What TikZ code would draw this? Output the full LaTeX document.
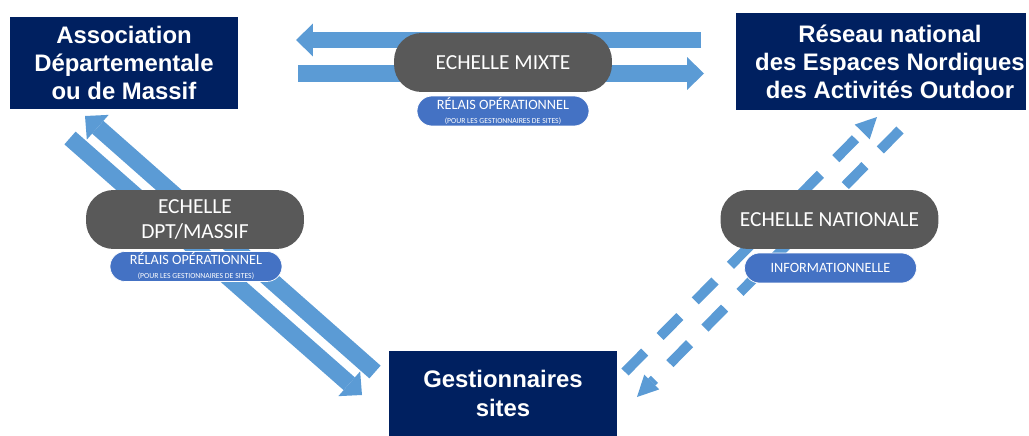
\documentclass[tikz,border=0pt]{standalone}
\usepackage{fontspec}
\setmainfont{Liberation Sans}
\newfontfamily\pillfont{Carlito}
\usetikzlibrary{arrows.meta,positioning}

\definecolor{navy}{HTML}{002060}
\definecolor{pillgray}{HTML}{595959}
\definecolor{pillblue}{HTML}{4472C4}
\definecolor{flowblue}{HTML}{5B9BD5}

\begin{document}
\begin{tikzpicture}[x=0.02cm,y=-0.02cm,
    org/.style={fill=navy,text=white,inner sep=0pt,align=center,
      font=\fontsize{13.6}{16}\selectfont\bfseries},
    scalepill/.style={fill=pillgray,text=white,rounded corners=0.55cm,inner sep=0pt,
      minimum width=4.36cm,minimum height=1.18cm,align=center,
      font=\pillfont\fontsize{12.2}{14.2}\selectfont},
    relais/.style={fill=pillblue,draw=white,line width=0.4pt,text=white,rounded corners=0.3cm,
      inner sep=0pt,minimum width=3.44cm,minimum height=0.6cm,align=center,
      font=\pillfont\fontsize{8.1}{8}\selectfont},
    flow/.style={draw=flowblue,line width=0.34cm,
      -{Triangle[length=0.34cm,width=0.66cm,line width=0pt]}},
    info/.style={draw=flowblue,line width=0.2cm,dash pattern=on 0.56cm off 0.44cm,
      -{Triangle[length=0.42cm,width=0.42cm,line width=0pt]}}]
  \useasboundingbox (0,0) rectangle (1029,436);

  % arrow ends
  \coordinate (mixteA) at (701,40);
  \coordinate (mixteB) at (296,40);
  \coordinate (mixteC) at (298,73.5);
  \coordinate (mixteD) at (704,73.5);
  \coordinate (dptA) at (375,372);
  \coordinate (dptB) at (85,116);
  \coordinate (dptC) at (70,138);
  \coordinate (dptD) at (362,395);
  \coordinate (natA) at (625,372);
  \coordinate (natB) at (877,117);
  \coordinate (natC) at (900,130);
  \coordinate (natD) at (637,397);

  \draw[flow] (mixteA) -- (mixteB);
  \draw[flow] (mixteC) -- (mixteD);
  \draw[flow] (dptA) -- (dptB);
  \draw[flow] (dptC) -- (dptD);
  \draw[info] (natA) -- (natB);
  \draw[info] (natC) -- (natD);

  % boxes
  \node[org,minimum width=4.56cm,minimum height=1.84cm] (assoc) at (124,63)
    {Association\\Départementale\\ou de Massif};
  \node[org,minimum width=5.8cm,minimum height=1.94cm] (reseau) at (881,61.5)
    {\hspace*{0.36cm}Réseau national\\\hspace*{0.36cm}des Espaces Nordiques\\\hspace*{0.36cm}des Activités Outdoor};
  \node[org,minimum width=4.56cm,minimum height=1.7cm] (gest) at (503,393.5)
    {Gestionnaires\\sites};

  % scales
  \node[scalepill] (mixte) at (503,62.5) {ECHELLE MIXTE};
  \node[relais] (mixterel) at (503,111)
    {RÉLAIS OPÉRATIONNEL\\{\fontsize{4.4}{5}\selectfont(POUR LES GESTIONNAIRES DE SITES)}};
  \node[scalepill] (dpt) at (195,219.5) {ECHELLE\\DPT/MASSIF};
  \node[relais] (dptrel) at (196,266.5)
    {RÉLAIS OPÉRATIONNEL\\{\fontsize{4.4}{5}\selectfont(POUR LES GESTIONNAIRES DE SITES)}};
  \node[scalepill] (nat) at (829.5,219.5) {ECHELLE NATIONALE};
  \node[relais] (natrel) at (830.5,268) {INFORMATIONNELLE};
\end{tikzpicture}
\end{document}
